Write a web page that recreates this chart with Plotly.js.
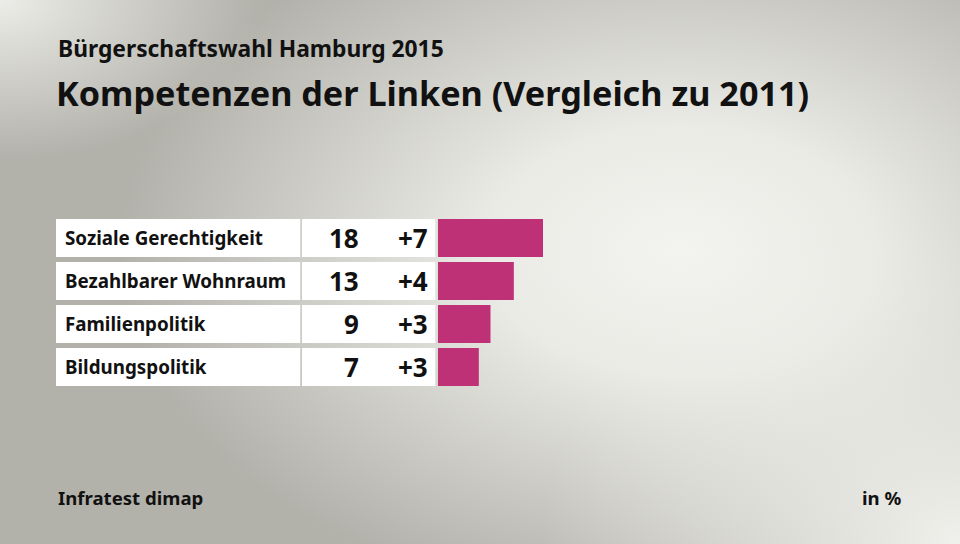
<!DOCTYPE html>
<html>
<head>
<meta charset="utf-8">
<script src="https://cdn.plot.ly/plotly-3.0.1.min.js"></script>
<style>
html,body{margin:0;padding:0;}
#bg{position:absolute;left:0;top:0;width:960px;height:544px;
background:
 radial-gradient(ellipse 560px 360px at 680px 250px, rgba(243,243,239,1) 0%, rgba(240,240,236,0.9) 35%, rgba(240,240,236,0) 100%),
 radial-gradient(ellipse 420px 320px at 960px 544px, rgba(240,240,236,1) 0%, rgba(240,240,236,0) 100%),
 radial-gradient(ellipse 260px 160px at 0px 0px, rgba(236,236,232,1) 0%, rgba(236,236,232,0) 100%),
 #b2b1aa;}
#chart{position:absolute;left:0;top:0;width:960px;height:544px;}
</style>
</head>
<body>
<div id="bg"></div>
<div id="chart"></div>
<script>
const categories = ["Soziale Gerechtigkeit", "Bezahlbarer Wohnraum", "Familienpolitik", "Bildungspolitik"];
const values = [18, 13, 9, 7];
const changes = ["+7", "+4", "+3", "+3"];
const subtitle = "Bürgerschaftswahl Hamburg 2015";
const title = "Kompetenzen der Linken (Vergleich zu 2011)";
const source = "Infratest dimap";
const unit = "in %";

const W = 960, H = 544;
const FONT = "'Noto Sans', sans-serif";
const barColor = "#bf3177";
const pxPerUnit = 105 / 18;
const barX0 = 438;
const xRangeMax = (W - barX0) / pxPerUnit;
const rowTop = 216.5, rowH = 43;
const yTop = 1 - rowTop / H;
const yBot = 1 - (rowTop + rowH * categories.length) / H;
const barWidth = 38 / 43;
const ones = categories.map(() => 1);

const traces = [
  {type: "bar", orientation: "h", y: categories, x: ones, xaxis: "x2", yaxis: "y",
   marker: {color: "#ffffff"}, width: barWidth, hoverinfo: "skip"},
  {type: "bar", orientation: "h", y: categories, x: ones, xaxis: "x3", yaxis: "y",
   marker: {color: "#ffffff"}, width: barWidth, hoverinfo: "skip"},
  {type: "bar", orientation: "h", y: categories, x: values, xaxis: "x", yaxis: "y",
   marker: {color: barColor}, width: barWidth, hoverinfo: "skip"}
];

const annotations = [];
categories.forEach((c, i) => {
  annotations.push({xref: "paper", yref: "y", x: 63 / W, y: c, text: "<b>" + c + "</b>",
    xanchor: "left", yanchor: "middle", showarrow: false,
    font: {family: FONT, size: 18.8, color: "#111"}});
  annotations.push({xref: "paper", yref: "y", x: 361 / W, y: c, text: "<b>" + values[i] + "</b>",
    xanchor: "right", yanchor: "middle", showarrow: false,
    font: {family: FONT, size: 26, color: "#111"}});
  annotations.push({xref: "paper", yref: "y", x: 430 / W, y: c, text: "<b>" + changes[i] + "</b>",
    xanchor: "right", yanchor: "middle", showarrow: false,
    font: {family: FONT, size: 26, color: "#111"}});
});
annotations.push({xref: "paper", yref: "paper", x: 56 / W, y: 1 - 48 / H, text: "<b>" + subtitle + "</b>",
  xanchor: "left", yanchor: "middle", showarrow: false, font: {family: FONT, size: 22.8, color: "#111"}});
annotations.push({xref: "paper", yref: "paper", x: 54 / W, y: 1 - 93 / H, text: "<b>" + title + "</b>",
  xanchor: "left", yanchor: "middle", showarrow: false, font: {family: FONT, size: 34.2, color: "#111"}});
annotations.push({xref: "paper", yref: "paper", x: 56 / W, y: 1 - 497 / H, text: "<b>" + source + "</b>",
  xanchor: "left", yanchor: "middle", showarrow: false, font: {family: FONT, size: 18.6, color: "#111"}});
annotations.push({xref: "paper", yref: "paper", x: 903 / W, y: 1 - 497 / H, text: "<b>" + unit + "</b>",
  xanchor: "right", yanchor: "middle", showarrow: false, font: {family: FONT, size: 18.6, color: "#111"}});

const hidden = {showgrid: false, zeroline: false, showticklabels: false, showline: false, ticks: "", fixedrange: true};
const layout = {
  width: W, height: H, margin: {l: 0, r: 0, t: 0, b: 0},
  paper_bgcolor: "rgba(0,0,0,0)", plot_bgcolor: "rgba(0,0,0,0)",
  showlegend: false, barmode: "overlay",
  xaxis: Object.assign({domain: [barX0 / W, 1], range: [0, xRangeMax], anchor: "y"}, hidden),
  xaxis2: Object.assign({domain: [56 / W, 300.5 / W], range: [0, 1], anchor: "y"}, hidden),
  xaxis3: Object.assign({domain: [302 / W, 435.5 / W], range: [0, 1], anchor: "y"}, hidden),
  yaxis: Object.assign({domain: [yBot, yTop], range: [categories.length - 0.5, -0.5], type: "category"}, hidden),
  annotations: annotations
};
Plotly.newPlot("chart", traces, layout, {displayModeBar: false, staticPlot: true});
</script>
</body>
</html>
